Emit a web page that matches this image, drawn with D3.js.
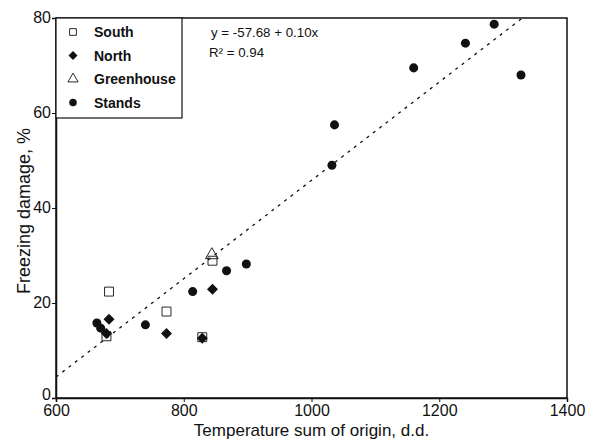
<!DOCTYPE html>
<html>
<head>
<meta charset="utf-8">
<script src="https://cdn.jsdelivr.net/npm/d3@7"></script>
<style>
  body { margin: 0; background: #fff; }
  text { font-family: "Liberation Sans", Arial, sans-serif; fill: #111; }
</style>
</head>
<body>
<div id="chart"></div>
<script>
// data
const southX = [679, 683, 773, 829, 845];
const southY = [13.0, 22.4, 18.2, 12.8, 28.9];
const northX = [683, 679, 773, 829, 845];
const northY = [16.6, 13.6, 13.6, 12.6, 22.9];
const greenX = [844];
const greenY = [30.1];
const standsX = [664, 670, 740, 814, 867, 898, 1032, 1036, 1160, 1241, 1286, 1328];
const standsY = [15.8, 14.7, 15.4, 22.4, 26.8, 28.2, 49.0, 57.5, 69.5, 74.7, 78.7, 68.0];
const xTicks = [600, 800, 1000, 1200, 1400];
const yTicks = [0, 20, 40, 60, 80];
const fitIntercept = -57.68;
const fitSlope = 0.1035;

const width = 595, height = 441;
const margin = {top: 18, right: 28, bottom: 43, left: 56};

const svg = d3.select("#chart").append("svg")
    .attr("width", width)
    .attr("height", height);

const x = d3.scaleLinear().domain([600, 1400]).range([margin.left, width - margin.right]);
const y = d3.scaleLinear().domain([0, 80]).range([height - margin.bottom, margin.top]);

// frame
svg.append("rect")
    .attr("x", x(600)).attr("y", y(80))
    .attr("width", x(1400) - x(600)).attr("height", y(0) - y(80))
    .attr("fill", "none").attr("stroke", "#111").attr("stroke-width", 1.5);

const xAxis = svg.append("g")
    .attr("transform", `translate(0,${y(0)})`)
    .call(d3.axisBottom(x).tickValues(xTicks).tickSize(4).tickPadding(3).tickFormat(d3.format("d")));
const yAxis = svg.append("g")
    .attr("transform", `translate(${x(600)},0)`)
    .call(d3.axisLeft(y).tickValues(yTicks).tickSize(4).tickPadding(1));
[xAxis, yAxis].forEach(a => {
    a.select(".domain").attr("stroke", "#111").attr("stroke-width", 1.5);
    a.selectAll(".tick line").attr("stroke", "#111");
    a.selectAll(".tick text").style("font-size", "16px").attr("fill", "#111");
});
yAxis.selectAll(".tick text").attr("dy", d => d === 0 ? "0.12em" : "0.28em");

// regression line
const xEnd = (80 - fitIntercept) / fitSlope;
svg.append("line")
    .attr("x1", x(600)).attr("y1", y(fitIntercept + fitSlope * 600))
    .attr("x2", x(xEnd)).attr("y2", y(80))
    .attr("stroke", "#111").attr("stroke-width", 1.3)
    .attr("stroke-dasharray", "3,5");

// markers
const pts = (xs, ys) => xs.map((v, i) => ({x: v, y: ys[i]}));
function drawSymbol(data, type, size, filled, rot) {
    svg.append("g").selectAll("path")
        .data(data)
        .join("path")
        .attr("transform", d => `translate(${x(d.x)},${y(d.y)}) rotate(${rot || 0})`)
        .attr("d", d3.symbol().type(type).size(size))
        .attr("fill", filled ? "#111" : "none")
        .attr("stroke", "#111")
        .attr("stroke-width", filled ? 0 : 0.9);
}
drawSymbol(pts(southX, southY), d3.symbolSquare, 80, false);
drawSymbol(pts(northX, northY), d3.symbolSquare, 60, true, 45);
drawSymbol(pts(greenX, greenY), d3.symbolTriangle, 70, false);
drawSymbol(pts(standsX, standsY), d3.symbolCircle, 64, true);

// legend
const legendItems = [
    {label: "South", type: d3.symbolSquare, size: 45, filled: false, rot: 0},
    {label: "North", type: d3.symbolSquare, size: 40, filled: true, rot: 45},
    {label: "Greenhouse", type: d3.symbolTriangle, size: 45, filled: false, rot: 0},
    {label: "Stands", type: d3.symbolCircle, size: 45, filled: true, rot: 0}
];
const lg = svg.append("g");
lg.append("rect")
    .attr("x", x(600)).attr("y", y(80))
    .attr("width", 126).attr("height", 100)
    .attr("fill", "#fff").attr("stroke", "#111").attr("stroke-width", 1.2);
legendItems.forEach((d, i) => {
    const cy = y(80) + 14 + i * 23.5;
    lg.append("path")
        .attr("transform", `translate(${x(600) + 17},${cy}) rotate(${d.rot})`)
        .attr("d", d3.symbol().type(d.type).size(d.size))
        .attr("fill", d.filled ? "#111" : "none")
        .attr("stroke", "#111").attr("stroke-width", d.filled ? 0 : 0.9);
    lg.append("text")
        .attr("x", x(600) + 38).attr("y", cy + 5)
        .style("font-size", "14px").style("font-weight", "bold")
        .text(d.label);
});

// equation
svg.append("text").attr("x", 211).attr("y", 37)
    .style("font-size", "13.3px").text("y = -57.68 + 0.10x");
svg.append("text").attr("x", 209).attr("y", 57)
    .style("font-size", "13.3px").text("R² = 0.94");

// axis titles
svg.append("text")
    .attr("x", (x(600) + x(1400)) / 2).attr("y", 436)
    .attr("text-anchor", "middle").style("font-size", "17px")
    .text("Temperature sum of origin, d.d.");
svg.append("text")
    .attr("transform", `translate(30,211) rotate(-90)`)
    .attr("text-anchor", "middle").style("font-size", "18px")
    .text("Freezing damage, %");
</script>
</body>
</html>
